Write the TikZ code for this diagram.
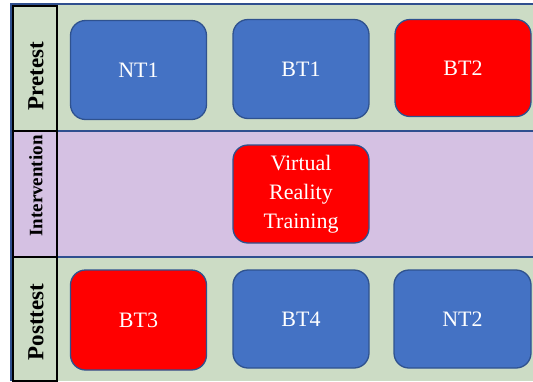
\documentclass[tikz,border=0pt]{standalone}
\usepackage{fontspec}
\setmainfont{Liberation Serif}
\definecolor{rowgreen}{HTML}{CCDCC5}
\definecolor{rowpurple}{HTML}{D5C1E3}
\definecolor{boxblue}{HTML}{4472C4}
\definecolor{boxred}{HTML}{FF0000}
\definecolor{edgeblue}{HTML}{2F528F}
\definecolor{linedark}{HTML}{2F4F8F}
\tikzset{
  cell/.style={draw=edgeblue, line width=1.3pt, rounded corners=15pt, minimum width=136pt, minimum height=99pt, text=white, font=\fontsize{22}{29}\selectfont, align=center, inner sep=0pt},
  bluecell/.style={cell, fill=boxblue},
  redcell/.style={cell, fill=boxred},
  rowlabel/.style={rotate=90, font=\fontsize{23}{26}\selectfont\bfseries, text=black, inner sep=0pt}
}
\begin{document}
\begin{tikzpicture}[x=1pt,y=-1pt]
\useasboundingbox (0,0) rectangle (533,381);
\fill[white] (0,0) rectangle (533,381);
% rows
\fill[rowgreen] (11,4) rectangle (533,131);
\fill[rowpurple] (11,131) rectangle (533,257);
\fill[rowgreen] (11,257) rectangle (533,381);
% outer frame
\draw[linedark, line width=1.2pt] (533,4) -- (11,4) -- (11,381);
\draw[linedark, line width=2pt] (11,131) -- (533,131);
\draw[linedark, line width=2pt] (11,257) -- (533,257);
% label column
\draw[black, line width=1.6pt] (13,6) rectangle (57,381);
\draw[black, line width=1.6pt] (13,131) -- (57,131);
\draw[black, line width=1.6pt] (13,257) -- (57,257);
\node[rowlabel] (lpre) at (36,76) {Pretest};
\node[rowlabel, font=\fontsize{19}{22}\selectfont\bfseries] (lint) at (36,186) {Intervention};
\node[rowlabel] (lpost) at (36,322) {Posttest};
% boxes
\node[bluecell] (nt1) at (138.5,70) {NT1};
\node[bluecell] (bt1) at (301,69) {BT1};
\node[redcell, minimum width=136pt, minimum height=97pt] (bt2) at (463,68) {BT2};
\node[redcell, minimum height=98pt] (vr) at (301,194) {Virtual\\Reality\\Training};
\node[redcell, minimum height=100pt] (bt3) at (138.5,320) {BT3};
\node[bluecell, minimum height=98pt] (bt4) at (301,319) {BT4};
\node[bluecell, minimum width=137pt, minimum height=98pt] (nt2) at (462.5,319) {NT2};
\end{tikzpicture}
\end{document}
